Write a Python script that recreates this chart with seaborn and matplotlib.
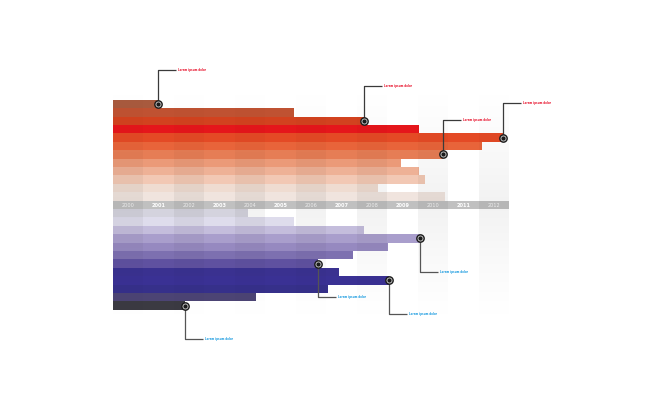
import matplotlib
matplotlib.use('Agg')
import matplotlib.pyplot as plt
from matplotlib.patches import Rectangle
import numpy as np
import pandas as pd
import seaborn as sns

YEARS = [str(y) for y in range(2000, 2013)]
# bar lengths in years counted from 2000 (top block, then bottom block)
RED_VALUES = [1.48, 5.94, 8.24, 10.05, 12.80, 12.11, 10.83, 9.45, 10.05, 10.24, 8.70, 10.90]
BLUE_VALUES = [4.43, 5.94, 8.24, 10.08, 9.03, 7.88, 6.73, 7.42, 9.06, 7.06, 4.69, 2.36]
RED_COLORS = ['#a85a3e', '#bf5232', '#d2421f', '#e5161b', '#e44a25', '#e8643a',
              '#e67d55', '#eb9a78', '#eeb196', '#f2c8b4', '#efdcd1', '#f0e4de']
BLUE_COLORS = ['#d4d3de', '#dedcec', '#c4bddc', '#a99ecc', '#9689c0', '#7d70b0',
               '#5f51a0', '#3a3190', '#3a3194', '#36308a', '#4c4474', '#3b3a42']
RED_NOTES = [0, 2, 4, 6]
BLUE_NOTES = [3, 6, 8, 11]
NOTE_TEXT = 'Lorem ipsum dolor'

BAND_ROW = 12
BLUE_START = 13


def draw_block(ax, values, colors, first_row, tag):
    df = pd.DataFrame({
        'value': values,
        'row': np.arange(first_row, first_row + len(values)),
        'bar': [f'{tag}{i}' for i in range(len(values))],
    })
    sns.barplot(data=df, x='value', y='row', hue='bar',
                palette=dict(zip(df['bar'], colors)), orient='h',
                native_scale=True, width=1, saturation=1, errorbar=None,
                linewidth=0, legend=False, ax=ax, zorder=2)


def draw_note(ax, x, y, dy, line_color, text_color):
    ax.plot([x, x, x + 0.58], [y, y + dy, y + dy], color=line_color,
            lw=0.9, zorder=5, solid_capstyle='butt')
    ax.scatter([x], [y], s=28, facecolor='#cfcfcf', edgecolor='#1a1a1a',
               linewidth=1.0, zorder=6)
    ax.scatter([x], [y], s=4, color='#1a1a1a', zorder=7)
    ax.text(x + 0.66, y + dy, NOTE_TEXT, color=text_color, fontsize=1.9,
            fontweight='bold', va='center', ha='left', zorder=7)


def main():
    sns.set_style('white')
    fig = plt.figure(figsize=(6.5, 3.97), dpi=100)
    ax = fig.add_axes([0, 0, 1, 1])

    draw_block(ax, RED_VALUES, RED_COLORS, 0, 'r')
    draw_block(ax, BLUE_VALUES, BLUE_COLORS, BLUE_START, 'b')

    # year band
    ax.add_patch(Rectangle((0, BAND_ROW - 0.43), len(YEARS), 0.9,
                           facecolor='#c0c0c0', edgecolor='none', zorder=2))
    for i, year in enumerate(YEARS):
        ax.text(i + 0.5, BAND_ROW + 0.03, year, ha='center', va='center',
                fontsize=3.6, color='white' if i % 2 else '#ececec',
                fontweight='bold' if i % 2 else 'normal', zorder=8)

    # faded column stripes for alternate years
    rows = np.linspace(-3, 28.5, 300)
    fade = np.clip(1 - np.abs(rows - BAND_ROW) / 15.0, 0, 1) ** 1.3
    img = np.zeros((len(rows), len(YEARS), 4))
    for i in range(0, len(YEARS), 2):
        img[:, i, 3] = 0.055 * fade
    ax.imshow(img, extent=(0, len(YEARS), rows[-1], rows[0]), origin='upper',
              aspect='auto', interpolation='nearest', zorder=3)

    for i in RED_NOTES:
        draw_note(ax, RED_VALUES[i], i, -4.1, '#3a3a3a', '#e8102a')
    for i in BLUE_NOTES:
        draw_note(ax, BLUE_VALUES[i], BLUE_START + i, 4.0, '#555555', '#1a9be0')

    ax.set_xlim(-113 / 30.46, (650 - 113) / 30.46)
    ax.set_ylim((397 - 104) / 8.4, -104 / 8.4)
    ax.set_axis_off()
    fig.savefig('out.png', dpi=100)


if __name__ == '__main__':
    main()
